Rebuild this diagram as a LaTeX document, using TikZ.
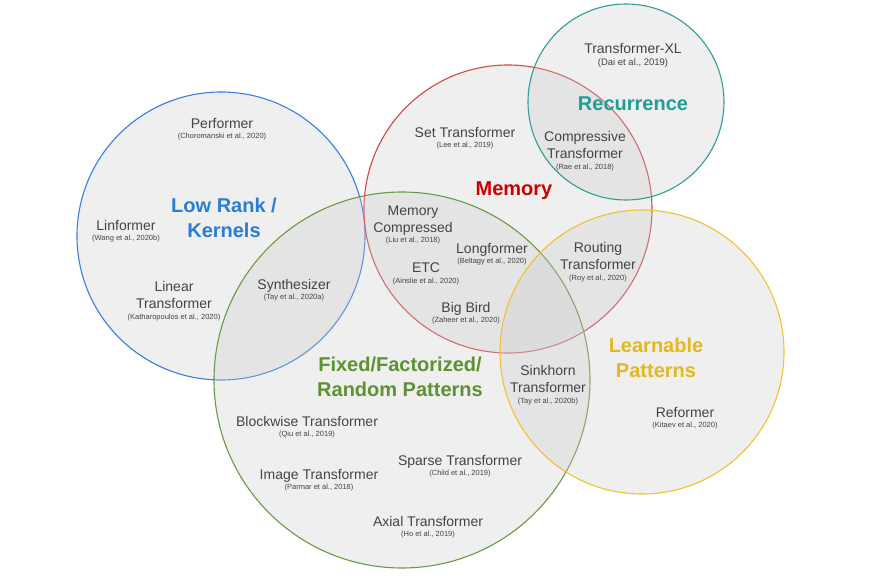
\documentclass[tikz,border=0pt]{standalone}
\usepackage{fontspec}
\setmainfont{Liberation Sans}
\usepackage{xcolor}
\usetikzlibrary{positioning}

\definecolor{lowrank}{HTML}{3C7DE0}
\definecolor{lowranktxt}{HTML}{2A7FD0}
\definecolor{memory}{HTML}{D04848}
\definecolor{memorytxt}{HTML}{CC0000}
\definecolor{recur}{HTML}{2F9E98}
\definecolor{recurtxt}{HTML}{1F9E96}
\definecolor{fixed}{HTML}{6A9A48}
\definecolor{fixedtxt}{HTML}{5E9132}
\definecolor{learn}{HTML}{F0C232}
\definecolor{learntxt}{HTML}{E3B821}
\definecolor{modeltxt}{HTML}{444444}

\tikzstyle{groupcircle} = [line width=1.1pt, fill=black!20, fill opacity=0.3]
\tikzstyle{grouptitle} = [align=center, inner sep=1pt, yshift=-2pt, font=\bfseries\fontsize{20}{25}\selectfont]
\tikzstyle{model} = [align=center, inner sep=1pt, yshift=-1.5pt, text depth=3pt, text=modeltxt, font=\fontsize{14}{16.5}\selectfont]
\tikzstyle{paper} = [inner sep=1pt, text=modeltxt, font=\fontsize{7.5}{9}\selectfont]

\begin{document}
\begin{tikzpicture}[x=1pt,y=-1pt]
    \fill[white] (0,0) rectangle (871,580);
    \useasboundingbox (0,0) rectangle (871,580);

    % the five groups
    \draw[groupcircle, draw=lowrank] (221,236) circle[radius=144pt];
    \draw[groupcircle, draw=memory] (508,209) circle[radius=144pt];
    \draw[groupcircle, draw=recur] (626,102) circle[radius=98pt];
    \draw[groupcircle, draw=fixed] (402,380) circle[radius=188pt];
    \draw[groupcircle, draw=learn] (642,352) circle[radius=142pt];

    % Low Rank / Kernels
    \node[grouptitle, text=lowranktxt] (lowrank) at (224,216) {Low Rank /\\Kernels};
    \node[model, label={[paper]below:(Choromanski et al., 2020)}] (performer) at (222,123) {Performer};
    \node[model, label={[paper]below:(Wang et al., 2020b)}] (linformer) at (126,225) {Linformer};
    \node[model, label={[paper]below:(Katharopoulos et al., 2020)}] (lineartf) at (174,295) {Linear\\Transformer};
    \node[model, label={[paper]below:(Tay et al., 2020a)}] (synthesizer) at (294,284) {Synthesizer};

    % Memory
    \node[grouptitle, text=memorytxt] (memory) at (514,189) {Memory};
    \node[model, label={[paper]below:(Lee et al., 2019)}] (settf) at (465,132) {Set Transformer};
    \node[model, label={[paper]below:(Rae et al., 2018)}] (compressive) at (585,145) {Compressive\\Transformer};
    \node[model, label={[paper]below:(Liu et al., 2018)}] (memcomp) at (413,219) {Memory\\Compressed};
    \node[model, label={[paper]below:(Beltagy et al., 2020)}] (longformer) at (492,248) {Longformer};
    \node[model, label={[paper]below:(Ainslie et al., 2020)}] (etc) at (426,268) {ETC};
    \node[model, label={[paper]below:(Zaheer et al., 2020)}] (bigbird) at (466,307) {Big Bird};
    \node[model, label={[paper]below:(Roy et al., 2020)}] (routing) at (598,256) {Routing\\Transformer};

    % Recurrence
    \node[grouptitle, text=recurtxt] (recurrence) at (633,102) {Recurrence};
    \node[model, label={[paper, font=\fontsize{9.5}{11}\selectfont]below:(Dai et al., 2019)}] (txl) at (633,48) {Transformer-XL};

    % Fixed/Factorized/Random Patterns
    \node[grouptitle, text=fixedtxt] (fixed) at (400,375) {Fixed/Factorized/\\Random Patterns};
    \node[model, label={[paper]below:(Qiu et al., 2019)}] (blockwise) at (307,421) {Blockwise Transformer};
    \node[model, label={[paper]below:(Child et al., 2019)}] (sparse) at (460,460) {Sparse Transformer};
    \node[model, label={[paper]below:(Parmar et al., 2018)}] (imagetf) at (319,474) {Image Transformer};
    \node[model, label={[paper]below:(Ho et al., 2019)}] (axial) at (428,521) {Axial Transformer};

    % Learnable Patterns
    \node[grouptitle, text=learntxt] (learnable) at (656,356) {Learnable\\Patterns};
    \node[model, label={[paper]below:(Tay et al., 2020b)}] (sinkhorn) at (548,379) {Sinkhorn\\Transformer};
    \node[model, label={[paper]below:(Kitaev et al., 2020)}] (reformer) at (685,412) {Reformer};
\end{tikzpicture}
\end{document}
